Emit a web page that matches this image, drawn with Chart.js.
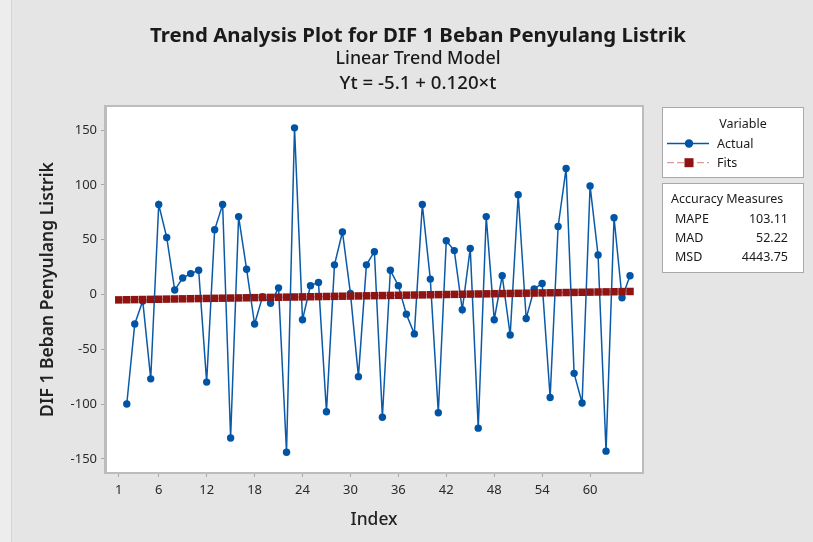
<!DOCTYPE html>
<html>
<head>
<meta charset="utf-8">
<script src="https://cdn.jsdelivr.net/npm/chart.js@4"></script>
<style>
html,body{margin:0;padding:0;}
body{width:813px;height:542px;background:#ededed;position:relative;overflow:hidden;font-family:"Noto Sans",sans-serif;}
#panel{position:absolute;left:11px;top:0;width:802px;height:542px;background:#e5e5e5;border-left:1px solid #d4d4d4;box-sizing:border-box;}
#c{position:absolute;left:0;top:0;}
.t{position:absolute;white-space:nowrap;color:#1a1a1a;line-height:1;}
.box{position:absolute;background:#fff;border:1px solid #a9a9a9;box-sizing:border-box;}
.lt{position:absolute;white-space:nowrap;color:#1a1a1a;font-size:12.5px;line-height:1;transform:translateY(-50%);}
</style>
</head>
<body>
<div id="panel"></div>
<canvas id="c" width="813" height="542"></canvas>
<div class="t" id="title" style="left:0;width:836px;text-align:center;font-weight:700;"></div>
<div class="t" id="sub1" style="left:0;width:836px;text-align:center;font-weight:500;"></div>
<div class="t" id="sub2" style="left:0;width:836px;text-align:center;font-weight:500;"></div>

<div class="box" style="left:662px;top:107px;width:142px;height:71px;"></div>
<div class="box" style="left:662px;top:183px;width:142px;height:90px;"></div>
<svg style="position:absolute;left:0;top:0;" width="813" height="542">
  <line x1="667" y1="143.5" x2="709" y2="143.5" stroke="#0057a8" stroke-width="1.4"/>
  <circle cx="689" cy="143.5" r="4.2" fill="#0054a6"/>
  <line x1="667" y1="162.7" x2="709" y2="162.7" stroke="rgba(200,110,110,0.85)" stroke-width="1" stroke-dasharray="7,3"/>
  <rect x="684.5" y="158.2" width="9" height="9" fill="#8e1414"/>
</svg>
<div id="legend"></div>

<script>
// ---- data ----
const chartTitle = 'Trend Analysis Plot for DIF 1 Beban Penyulang Listrik';
const subTitle1 = 'Linear Trend Model';
const subTitle2 = 'Yt = -5.1 + 0.120×t';
const yAxisTitle = 'DIF 1 Beban Penyulang Listrik';
const xAxisTitle = 'Index';

const categories = [1,2,3,4,5,6,7,8,9,10,11,12,13,14,15,16,17,18,19,20,21,22,23,24,25,26,27,28,29,30,31,32,33,34,35,36,37,38,39,40,41,42,43,44,45,46,47,48,49,50,51,52,53,54,55,56,57,58,59,60,61,62,63,64,65];
const actualValues = [null,-100,-27,-6,-77,82,52,4,15,19,22,-80,59,82,-131,71,23,-27,-2,-8,6,-144,152,-23,8,11,-107,27,57,1,-75,27,39,-112,22,8,-18,-36,82,14,-108,49,40,-14,42,-122,71,-23,17,-37,91,-22,5,10,-94,62,115,-72,-99,99,36,-143,70,-3,17];
const fitsValues = [-4.98,-4.86,-4.74,-4.62,-4.50,-4.38,-4.26,-4.14,-4.02,-3.90,-3.78,-3.66,-3.54,-3.42,-3.30,-3.18,-3.06,-2.94,-2.82,-2.70,-2.58,-2.46,-2.34,-2.22,-2.10,-1.98,-1.86,-1.74,-1.62,-1.50,-1.38,-1.26,-1.14,-1.02,-0.90,-0.78,-0.66,-0.54,-0.42,-0.30,-0.18,-0.06,0.06,0.18,0.30,0.42,0.54,0.66,0.78,0.90,1.02,1.14,1.26,1.38,1.50,1.62,1.74,1.86,1.98,2.10,2.22,2.34,2.46,2.58,2.70];
const xTickValues = [1,6,12,18,24,30,36,42,48,54,60];
const yTickValues = [-150,-100,-50,0,50,100,150];
const legendVariableTitle = 'Variable';
const seriesNames = ['Actual','Fits'];
const accuracyTitle = 'Accuracy Measures';
const accuracyLabels = ['MAPE','MAD','MSD'];
const accuracyValues = ['103.11','52.22','4443.75'];

const FAMILY = '"Noto Sans", sans-serif';

function fitSize(text, weight, target){
  const m = document.createElement('canvas').getContext('2d');
  m.font = weight + ' 100px ' + FAMILY;
  return 100 * target / m.measureText(text).width;
}

// titles
function placeTitle(id, text, weight, width, cy){
  const el = document.getElementById(id);
  const s = fitSize(text, weight, width);
  el.textContent = text;
  el.style.fontSize = s.toFixed(2) + 'px';
  el.style.top = (cy - s*0.55) + 'px';
}
placeTitle('title', chartTitle, 700, 536, 35);
placeTitle('sub1', subTitle1, 500, 165, 59);
placeTitle('sub2', subTitle2, 500, 157, 83);

// legend texts
const lg = document.getElementById('legend');
function addText(text, x, y, align){
  const d = document.createElement('div');
  d.className = 'lt';
  d.textContent = text;
  if (align === 'right') { d.style.right = (813 - x) + 'px'; }
  else if (align === 'center') { d.style.left = (x - 60) + 'px'; d.style.width = '120px'; d.style.textAlign = 'center'; }
  else { d.style.left = x + 'px'; }
  d.style.top = y + 'px';
  lg.appendChild(d);
}
addText(legendVariableTitle, 743, 124, 'center');
addText(seriesNames[0], 717, 143.5);
addText(seriesNames[1], 717, 162.7);
addText(accuracyTitle, 671, 199.3);
const accY = [219, 238.3, 256.7];
accuracyLabels.forEach((l,i)=>{ addText(l, 675, accY[i]); addText(accuracyValues[i], 788, accY[i], 'right'); });

const yTitleSize = fitSize(yAxisTitle, 600, 255);
const xTitleSize = fitSize(xAxisTitle, 500, 47);

const framePlugin = {
  id:'frame',
  beforeDraw(chart){
    const {ctx, chartArea:a} = chart;
    ctx.save();
    ctx.fillStyle = '#ffffff';
    ctx.fillRect(a.left, a.top, a.right - a.left, a.bottom - a.top);
    ctx.restore();
  },
  afterDraw(chart){
    const {ctx, chartArea:a} = chart;
    ctx.save();
    ctx.strokeStyle = '#bcbcbc';
    ctx.lineWidth = 2;
    ctx.strokeRect(a.left - 1, a.top - 1, a.right - a.left + 2, a.bottom - a.top + 2);
    ctx.restore();
  }
};

new Chart(document.getElementById('c'), {
  type: 'line',
  data: {
    datasets: [
      {
        label: seriesNames[1],
        data: categories.map((t,i)=>({x:t, y:fitsValues[i]})),
        borderColor: 'rgba(200,110,110,0.85)',
        borderWidth: 1,
        borderDash: [5,3],
        pointStyle: 'rect',
        pointRadius: 5.3,
        pointBackgroundColor: '#8e1414',
        pointBorderColor: '#8e1414',
        pointBorderWidth: 0,
        order: 0
      },
      {
        label: seriesNames[0],
        data: categories.map((t,i)=>({x:t, y:actualValues[i]})),
        borderColor: '#0a5aa8',
        borderWidth: 1.5,
        pointStyle: 'circle',
        pointRadius: 3.7,
        pointBackgroundColor: '#0054a6',
        pointBorderWidth: 0,
        spanGaps: false,
        order: 1
      }
    ]
  },
  options: {
    responsive: false,
    animation: false,
    devicePixelRatio: 1,
    layout: { padding: { top: 107, right: 171, left: 0, bottom: 0 } },
    plugins: { legend: { display: false }, tooltip: { enabled: false }, title: { display: false } },
    scales: {
      x: {
        type: 'linear',
        min: -0.6,
        max: 66.5,
        afterBuildTicks: s => { s.ticks = xTickValues.map(v => ({ value: v })); },
        afterFit: s => { s.height = 70; },
        grid: { drawOnChartArea: false, drawTicks: true, tickLength: 5, color: '#a8a8a8' },
        border: { display: true, color: '#bcbcbc' },
        ticks: { font: { family: FAMILY, size: 13 }, color: '#2a2a2a', padding: 5, maxRotation: 0, autoSkip: false },
        title: { display: true, text: xAxisTitle, color: '#222222', font: { family: FAMILY, size: xTitleSize, weight: 500 }, padding: { top: 0, bottom: 12 } }
      },
      y: {
        type: 'linear',
        min: -162,
        max: 171,
        afterBuildTicks: s => { s.ticks = yTickValues.map(v => ({ value: v })); },
        afterFit: s => { s.width = 106; },
        grid: { drawOnChartArea: false, drawTicks: true, tickLength: 5, color: '#a8a8a8' },
        border: { display: true, color: '#bcbcbc' },
        ticks: { font: { family: FAMILY, size: 13 }, color: '#2a2a2a', padding: 4 },
        title: { display: true, text: yAxisTitle, color: '#222222', font: { family: FAMILY, size: yTitleSize, weight: 600 }, padding: { top: 48 - yTitleSize*0.6, bottom: 0 } }
      }
    }
  },
  plugins: [framePlugin]
});
</script>
</body>
</html>
